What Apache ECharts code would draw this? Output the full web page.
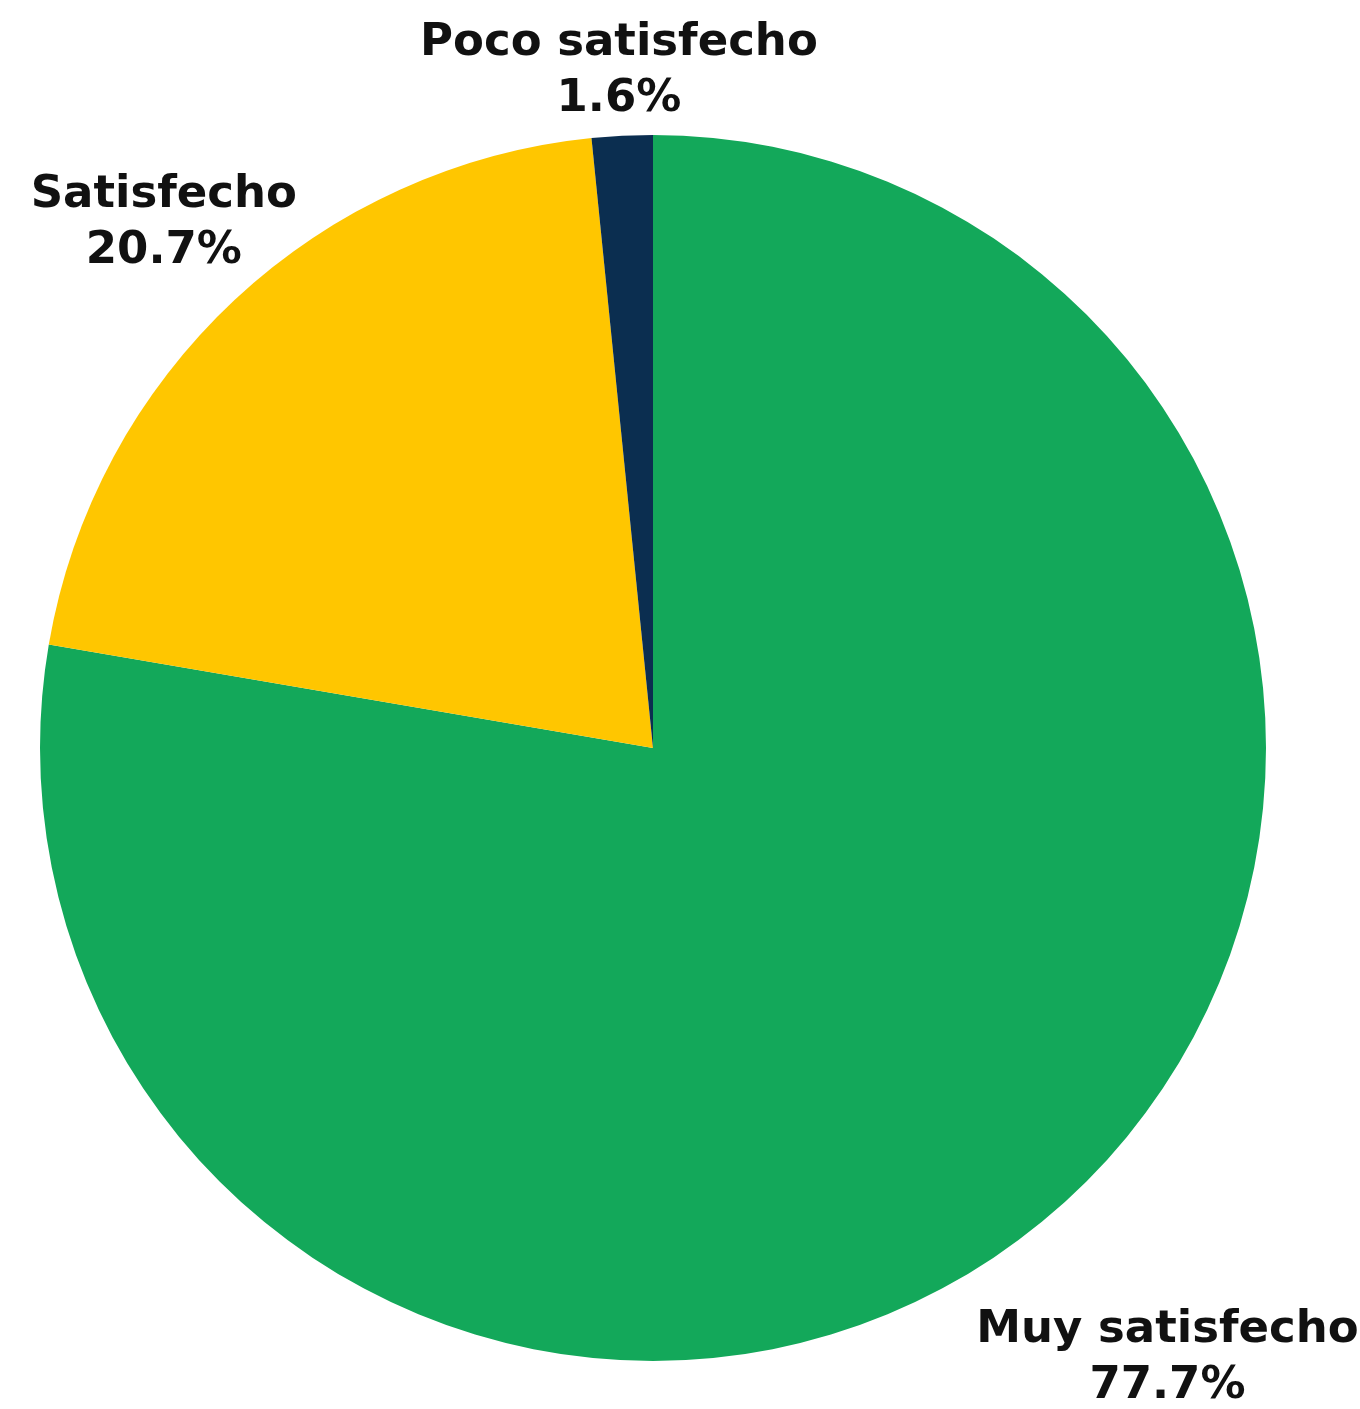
<!DOCTYPE html>
<html>
<head>
<meta charset="utf-8">
<script src="https://cdn.jsdelivr.net/npm/echarts@6/dist/echarts.min.js"></script>
<style>
html,body{margin:0;padding:0;background:#ffffff;}
#chart{width:1360px;height:1409px;}
</style>
</head>
<body>
<div id="chart"></div>
<script>
const categories = ['Muy satisfecho', 'Satisfecho', 'Poco satisfecho'];
const values = [77.7, 20.7, 1.6];
const colors = ['#13A85A', '#FFC600', '#0B2E50'];
const labelGaps = [185, 104, 65];

const chart = echarts.init(document.getElementById('chart'));
chart.setOption({
  backgroundColor: '#ffffff',
  animation: false,
  series: [{
    type: 'pie',
    center: [653, 748],
    radius: 613,
    startAngle: 90,
    clockwise: true,
    avoidLabelOverlap: false,
    data: categories.map((c, i) => ({
      name: c,
      value: values[i],
      itemStyle: { color: colors[i] },
      labelLine: { show: false, length: labelGaps[i], length2: 0 }
    })),
    label: {
      show: true,
      position: 'outside',
      formatter: p => p.name + '\n' + p.value.toFixed(1) + '%',
      fontFamily: 'DejaVu Sans',
      fontWeight: 'bold',
      fontSize: 45,
      lineHeight: 56,
      color: '#111111',
      align: 'center'
    },
    labelLine: { show: false },
    labelLayout: function (params) {
      const pts = params.labelLinePoints;
      if (!pts) return {};
      return { x: pts[1][0], y: pts[1][1], align: 'center', verticalAlign: 'middle' };
    }
  }]
});
</script>
</body>
</html>
